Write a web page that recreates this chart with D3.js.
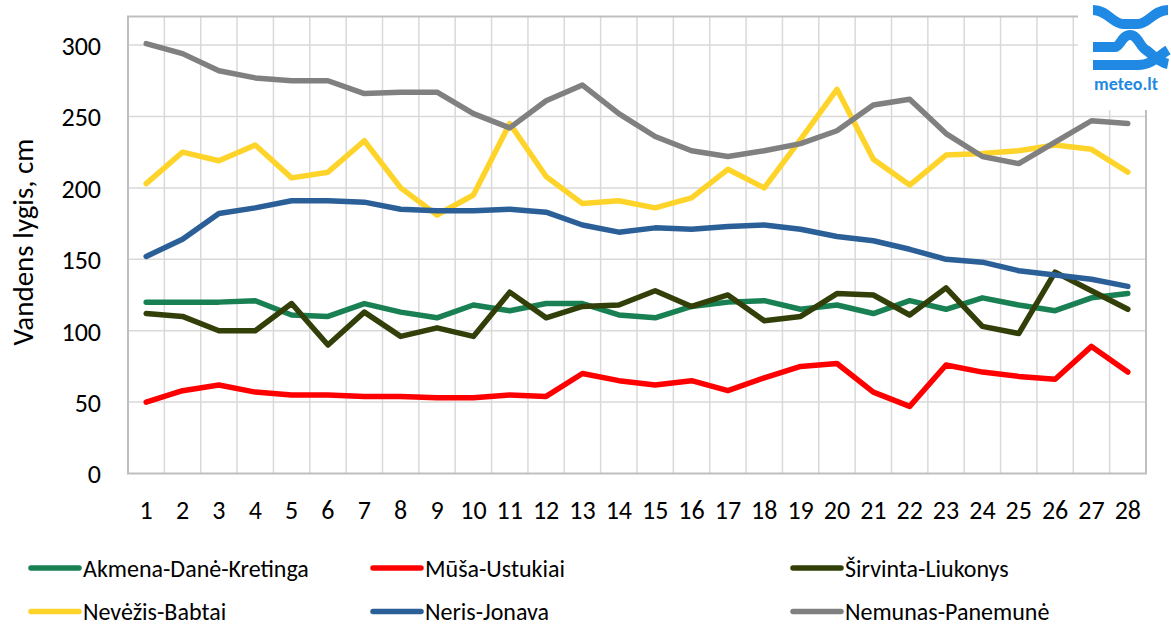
<!DOCTYPE html>
<html>
<head>
<meta charset="utf-8">
<script src="https://cdn.jsdelivr.net/npm/d3@7"></script>
<style>
  body { margin: 0; background: #fff; }
  text { font-family: Carlito, Calibri, Lato, sans-serif; fill: #000; }
</style>
</head>
<body>
<div id="chart"></div>
<script>
// days of the month
var days = d3.range(1, 29);
var yTicks = [0, 50, 100, 150, 200, 250, 300];

var akmena   = [120,120,120,121,111,110,119,113,109,118,114,119,119,111,109,117,120,121,115,118,112,121,115,123,118,114,123,126];
var musa     = [50,58,62,57,55,55,54,54,53,53,55,54,70,65,62,65,58,67,75,77,57,47,76,71,68,66,89,71];
var sirvinta = [112,110,100,100,119,90,113,96,102,96,127,109,117,118,128,117,125,107,110,126,125,111,130,103,98,141,128,115];
var nevezis  = [203,225,219,230,207,211,233,200,181,195,245,208,189,191,186,193,213,200,234,269,220,202,223,224,226,230,227,211];
var neris    = [152,164,182,186,191,191,190,185,184,184,185,183,174,169,172,171,173,174,171,166,163,157,150,148,142,139,136,131];
var nemunas  = [301,294,282,277,275,275,266,267,267,252,242,261,272,252,236,226,222,226,231,240,258,262,238,222,217,232,247,245];

var seriesNames = ["Akmena-Danė-Kretinga", "Mūša-Ustukiai", "Širvinta-Liukonys",
                   "Nevėžis-Babtai", "Neris-Jonava", "Nemunas-Panemunė"];
var seriesValues = [akmena, musa, sirvinta, nevezis, neris, nemunas];
var seriesColors = ["#188052", "#ff0000", "#323f08", "#ffd42a", "#2b5f98", "#808080"];

var svgWidth = 1171;
var svgHeight = 626;
var margin = { top: 16.5, right: 25, bottom: 152.5, left: 128 };
var width = svgWidth - margin.left - margin.right;
var height = svgHeight - margin.top - margin.bottom;

var svg = d3.select("#chart")
  .append("svg")
  .attr("width", svgWidth)
  .attr("height", svgHeight);

var chartGroup = svg.append("g")
  .attr("transform", `translate(${margin.left}, ${margin.top})`);

var x = d3.scaleBand()
  .domain(days)
  .range([0, width]);

var y = d3.scaleLinear()
  .domain([0, 320])
  .range([height, 0]);

// gridlines
chartGroup.selectAll(".hgrid")
  .data(yTicks.slice(1))
  .enter()
  .append("line")
  .attr("x1", 0)
  .attr("x2", width)
  .attr("y1", d => y(d))
  .attr("y2", d => y(d))
  .attr("stroke", "#d9d9d9")
  .attr("stroke-width", 1.5);

chartGroup.selectAll(".vgrid")
  .data(days.slice(1))
  .enter()
  .append("line")
  .attr("x1", d => x(d))
  .attr("x2", d => x(d))
  .attr("y1", 0)
  .attr("y2", height)
  .attr("stroke", "#d9d9d9")
  .attr("stroke-width", 1.5);

// plot frame
chartGroup.append("rect")
  .attr("width", width)
  .attr("height", height)
  .attr("fill", "none")
  .attr("stroke", "#bfbfbf")
  .attr("stroke-width", 2);

// y axis labels
var leftAxis = d3.axisLeft(y).tickValues(yTicks).tickSize(0).tickPadding(27);
var yAxis = chartGroup.append("g").call(leftAxis);
yAxis.select(".domain").remove();
yAxis.selectAll("text")
  .style("font-size", "26px")
  .attr("dy", "0.36em");

// x axis labels
var bottomAxis = d3.axisBottom(x).tickSize(0).tickPadding(27);
var xAxis = chartGroup.append("g")
  .attr("transform", `translate(0, ${height})`)
  .call(bottomAxis);
xAxis.select(".domain").remove();
xAxis.selectAll("text")
  .style("font-size", "26px")
  .attr("dy", "0.71em");

// y axis title
svg.append("text")
  .attr("transform", "rotate(-90)")
  .attr("x", -(margin.top + height / 2) + 3)
  .attr("y", 33)
  .attr("text-anchor", "middle")
  .style("font-size", "29px")
  .text("Vandens lygis, cm");

// lines
var line = d3.line()
  .x((d, i) => x(days[i]) + x.bandwidth() / 2)
  .y(d => y(d));

chartGroup.selectAll(".series")
  .data(seriesValues)
  .enter()
  .append("path")
  .attr("d", d => line(d))
  .attr("fill", "none")
  .attr("stroke", (d, i) => seriesColors[i])
  .attr("stroke-width", 5.5)
  .attr("stroke-linejoin", "round")
  .attr("stroke-linecap", "round");

// legend
var legendCols = [31, 373, 793];
var legendRows = [568, 611.5];
var legend = svg.selectAll(".legend")
  .data(seriesNames)
  .enter()
  .append("g")
  .attr("transform", (d, i) => `translate(${legendCols[i % 3]}, ${legendRows[Math.floor(i / 3)]})`);

legend.append("line")
  .attr("x1", 0)
  .attr("x2", 48)
  .attr("stroke", (d, i) => seriesColors[i])
  .attr("stroke-width", 5.5)
  .attr("stroke-linecap", "round");

legend.append("text")
  .attr("x", 52)
  .attr("dy", "0.36em")
  .style("font-size", "24px")
  .text(d => d);

// meteo.lt logo
var logo = svg.append("g").attr("transform", "translate(1080, 0)");
logo.append("rect")
  .attr("x", -2)
  .attr("width", 93)
  .attr("height", 110)
  .attr("fill", "#fff");

var logoBlue = "#1f89e3";
var logoPaths = [
  "M13,10 C27,10 33,24 43,24 L58,24 C68,24 74,10 88,10",
  "M13,47 L35,47 C40,47 42,35 50,35 C58,35 60,47 66,50 C72,54 78,62 88,64",
  "M13,65 L58,65 C72,65 78,56 88,50"
];
logo.selectAll("path")
  .data(logoPaths)
  .enter()
  .append("path")
  .attr("d", d => d)
  .attr("fill", "none")
  .attr("stroke", logoBlue)
  .attr("stroke-width", 10);

logo.append("text")
  .attr("x", 46)
  .attr("y", 90)
  .attr("text-anchor", "middle")
  .style("font-size", "18px")
  .style("font-weight", "bold")
  .style("fill", logoBlue)
  .text("meteo.lt");
</script>
</body>
</html>
